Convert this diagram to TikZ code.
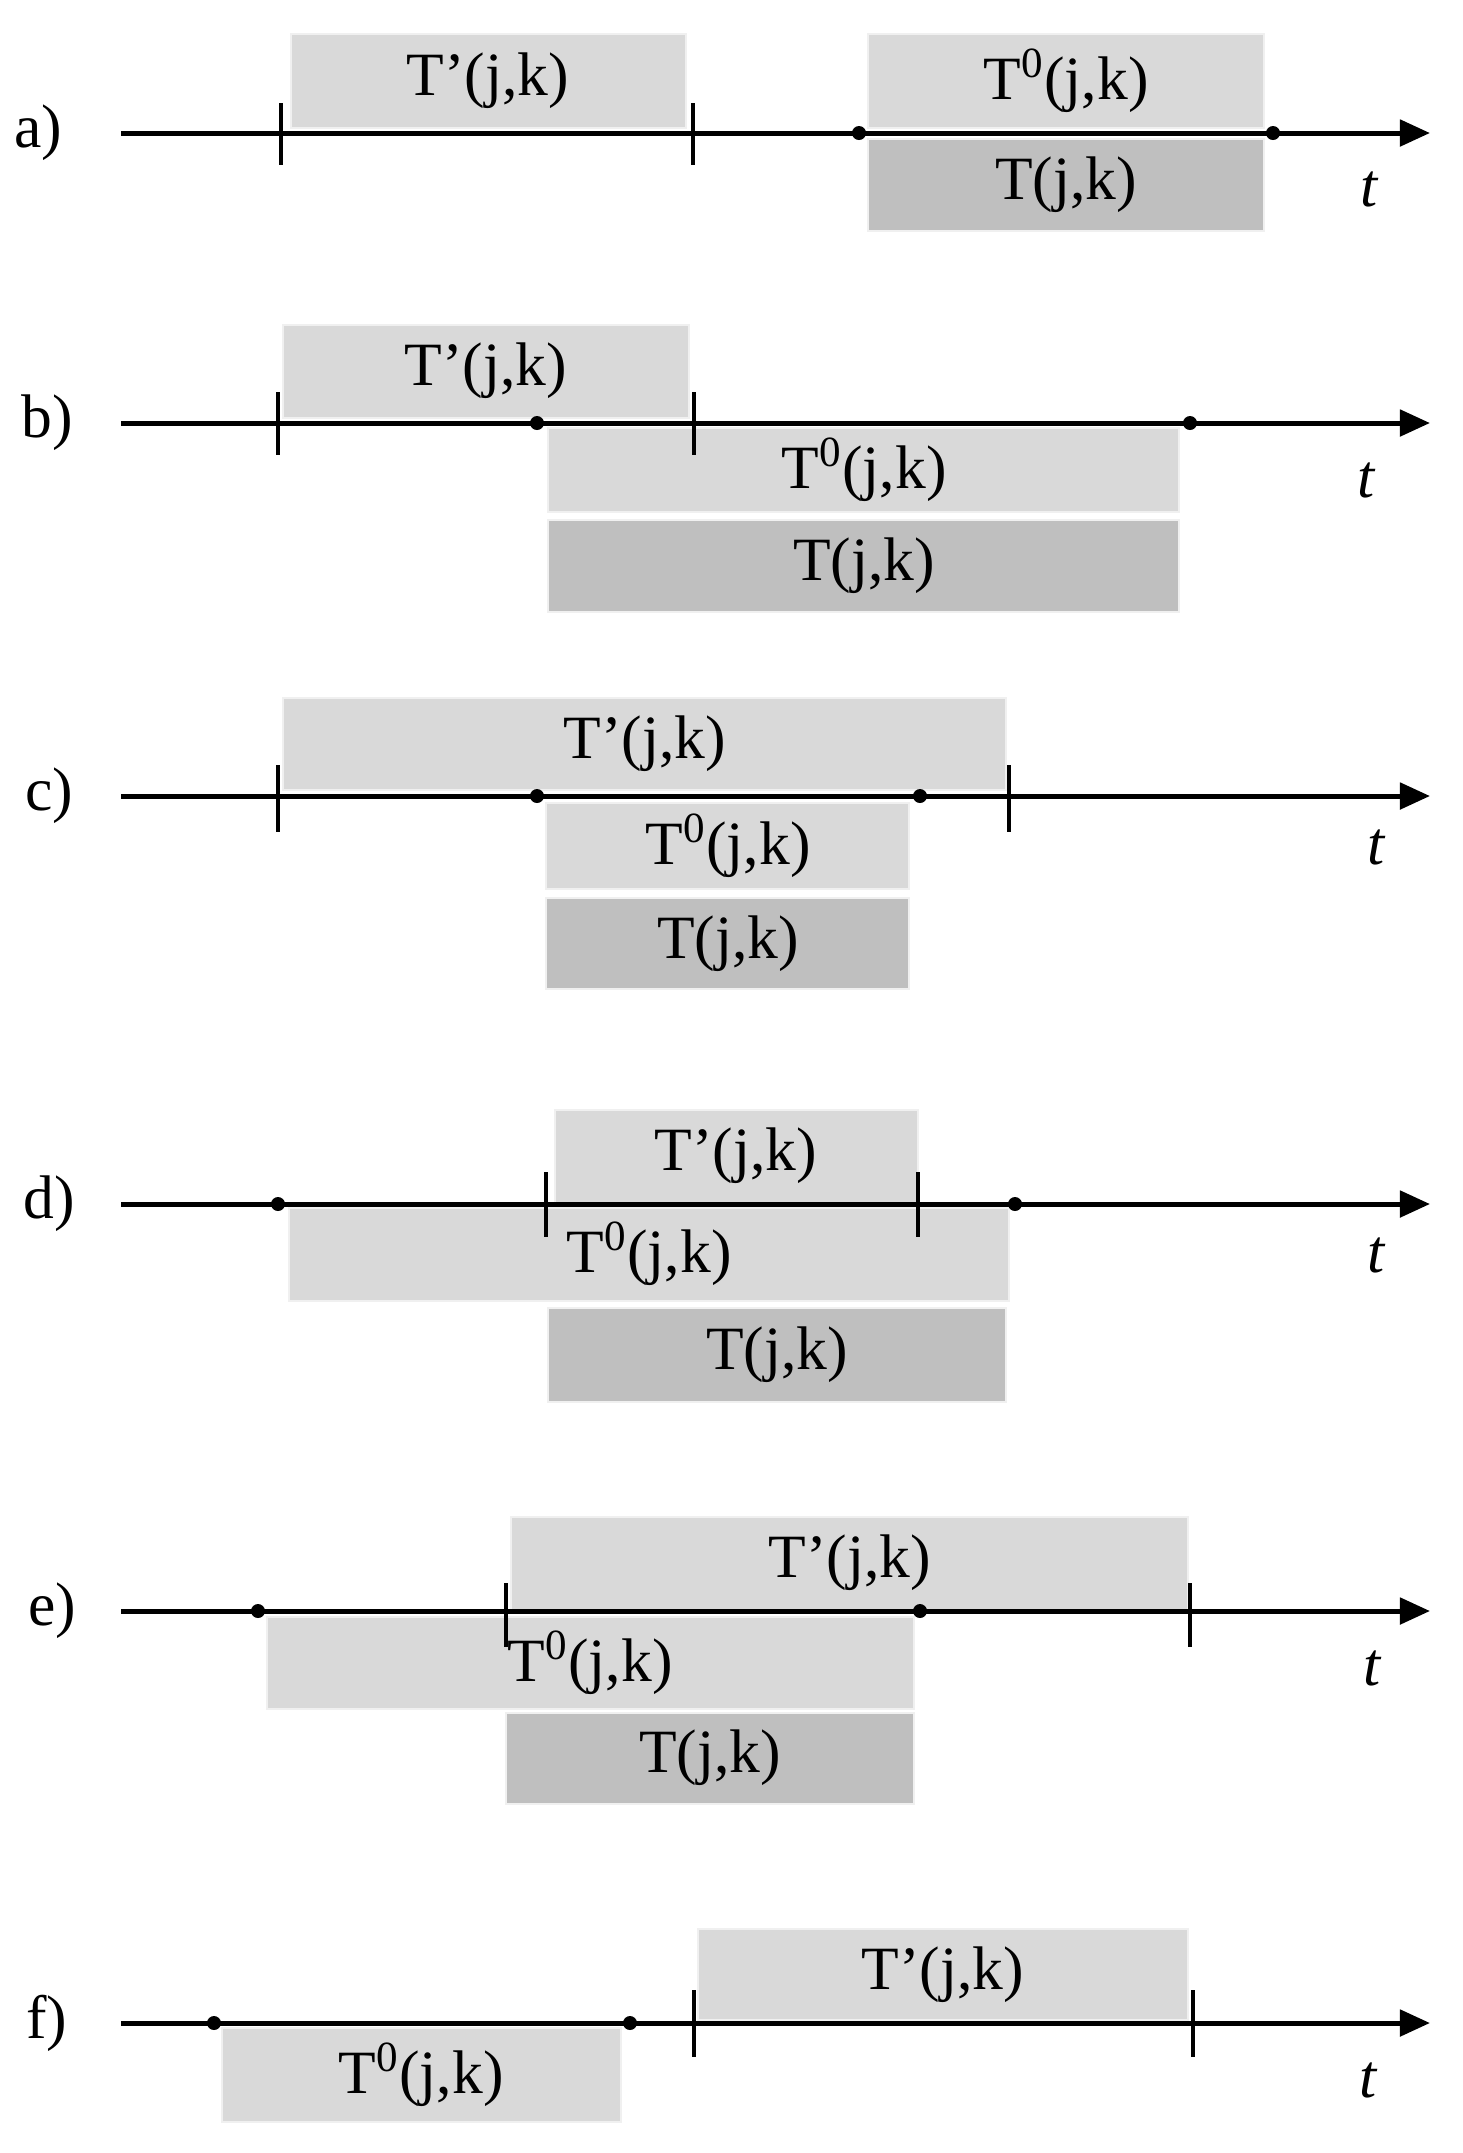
\documentclass[tikz,border=0pt]{standalone}
\usepackage{fontspec}
\setmainfont{Liberation Serif}
\usetikzlibrary{arrows.meta}
\definecolor{lightfill}{gray}{0.85}
\definecolor{darkfill}{gray}{0.75}
\tikzset{
	lbl/.style={font=\fontsize{17.5}{21}\selectfont, inner sep=0pt},
	timeaxis/.style={line width=0.5mm, -{Triangle[length=3mm,width=2.6mm]}},
	tickmark/.style={line width=0.32mm},
	lightbox/.style={fill=lightfill, draw=black!6, line width=0.5pt},
	darkbox/.style={fill=darkfill, draw=black!6, line width=0.5pt}
}
\def\Tp{T'(j,k)}
\def\Tz{T\textsuperscript{0}(j,k)}
\def\Tj{T(j,k)}

\begin{document}
\begin{tikzpicture}[x=0.01cm,y=-0.01cm]
		\useasboundingbox (0,0) rectangle (1462,2153);
		%%%%% a) %%%%%
		\draw[lightbox] (291,34) rectangle (686,128);
		\draw[lightbox] (868,34) rectangle (1264,128);
		\draw[darkbox] (868,139) rectangle (1264,231);
		\draw[timeaxis] (121,133) -- (1430,133);
		\draw[tickmark] (281,103) -- (281,165);
		\draw[tickmark] (693,103) -- (693,165);
		\fill (859,133) circle (0.7mm);
		\fill (1273,133) circle (0.7mm);
		\node[lbl] (pa) at (38,133) {a)};
		\node[lbl] (tpa) at (488,81) {\Tp};
		\node[lbl] (tza) at (1066,81) {\Tz};
		\node[lbl] (tja) at (1066,185) {\Tj};
		\node[lbl] (ta) at (1370,189) {\textit{t}};
		
		%%%%% b) %%%%%
		\draw[lightbox] (283,325) rectangle (689,418);
		\draw[lightbox] (548,428) rectangle (1179,512);
		\draw[darkbox] (548,520) rectangle (1179,612);
		\draw[timeaxis] (121,423) -- (1430,423);
		\draw[tickmark] (278,392) -- (278,455);
		\draw[tickmark] (694,392) -- (694,455);
		\fill (537,423) circle (0.7mm);
		\fill (1190,423) circle (0.7mm);
		\node[lbl] (pb) at (47,423) {b)};
		\node[lbl] (tpb) at (486,371) {\Tp};
		\node[lbl] (tzb) at (864,470) {\Tz};
		\node[lbl] (tjb) at (864,566) {\Tj};
		\node[lbl] (tb) at (1367,480) {\textit{t}};
		
		%%%%% c) %%%%%
		\draw[lightbox] (283,698) rectangle (1006,790);
		\draw[lightbox] (546,803) rectangle (909,889);
		\draw[darkbox] (546,898) rectangle (909,989);
		\draw[timeaxis] (121,796) -- (1430,796);
		\draw[tickmark] (278,765) -- (278,832);
		\draw[tickmark] (1009,765) -- (1009,832);
		\fill (537,796) circle (0.7mm);
		\fill (920,796) circle (0.7mm);
		\node[lbl] (pc) at (49,796) {c)};
		\node[lbl] (tpc) at (645,744) {\Tp};
		\node[lbl] (tzc) at (728,846) {\Tz};
		\node[lbl] (tjc) at (728,944) {\Tj};
		\node[lbl] (tc) at (1377,847) {\textit{t}};
		
		%%%%% d) %%%%%
		\draw[lightbox] (555,1110) rectangle (918,1203);
		\draw[lightbox] (289,1208) rectangle (1009,1301);
		\draw[darkbox] (548,1308) rectangle (1006,1402);
		\draw[timeaxis] (121,1204) -- (1430,1204);
		\draw[tickmark] (546,1172) -- (546,1237);
		\draw[tickmark] (918,1172) -- (918,1237);
		\fill (278,1204) circle (0.7mm);
		\fill (1015,1204) circle (0.7mm);
		\node[lbl] (pd) at (49,1204) {d)};
		\node[lbl] (tpd) at (736,1156) {\Tp};
		\node[lbl] (tzd) at (649,1254) {\Tz};
		\node[lbl] (tjd) at (777,1355) {\Tj};
		\node[lbl] (td) at (1377,1255) {\textit{t}};
		
		%%%%% e) %%%%%
		\draw[lightbox] (511,1517) rectangle (1188,1610);
		\draw[lightbox] (267,1617) rectangle (914,1709);
		\draw[darkbox] (506,1713) rectangle (914,1804);
		\draw[timeaxis] (121,1611) -- (1430,1611);
		\draw[tickmark] (506,1583) -- (506,1647);
		\draw[tickmark] (1190,1583) -- (1190,1647);
		\fill (258,1611) circle (0.7mm);
		\fill (920,1611) circle (0.7mm);
		\node[lbl] (pe) at (52,1611) {e)};
		\node[lbl] (tpe) at (850,1563) {\Tp};
		\node[lbl] (tze) at (590,1663) {\Tz};
		\node[lbl] (tje) at (710,1758) {\Tj};
		\node[lbl] (te) at (1373,1668) {\textit{t}};
		
		%%%%% f) %%%%%
		\draw[lightbox] (698,1929) rectangle (1188,2020);
		\draw[lightbox] (222,2028) rectangle (621,2122);
		\draw[timeaxis] (121,2023) -- (1430,2023);
		\draw[tickmark] (694,1990) -- (694,2057);
		\draw[tickmark] (1193,1990) -- (1193,2057);
		\fill (214,2023) circle (0.7mm);
		\fill (630,2023) circle (0.7mm);
		\node[lbl] (pf) at (47,2023) {f)};
		\node[lbl] (tpf) at (943,1975) {\Tp};
		\node[lbl] (tzf) at (421,2075) {\Tz};
		\node[lbl] (tf) at (1369,2080) {\textit{t}};
		%%%%% END %%%%%
	\end{tikzpicture}
\end{document}
